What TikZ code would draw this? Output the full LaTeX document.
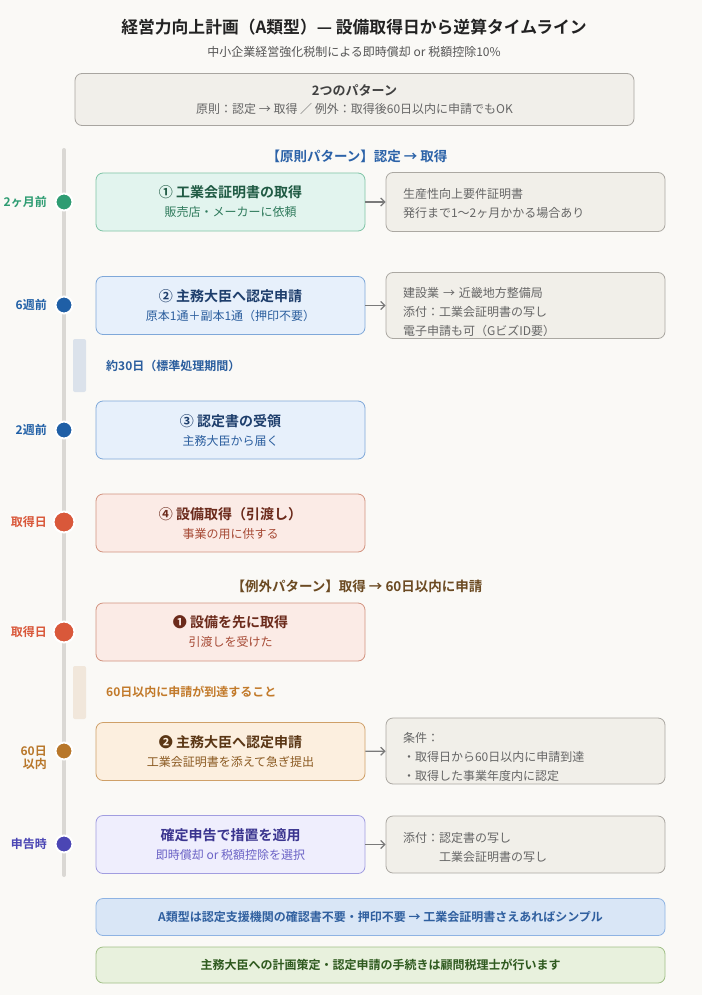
\documentclass[tikz,border=0pt]{standalone}
\usepackage{fontspec}
\setmainfont{Noto Sans CJK JP}[BoldFont={Noto Sans CJK JP Bold}]
\usetikzlibrary{arrows.meta}

\definecolor{bgc}{HTML}{FAF9F6}
\definecolor{ttlc}{HTML}{222222}
\definecolor{subc}{HTML}{555555}
\definecolor{patfill}{HTML}{F1EFEA}
\definecolor{patdraw}{HTML}{A8A5A0}
\definecolor{tline}{HTML}{DAD8D4}
\definecolor{notefill}{HTML}{F1EFE9}
\definecolor{notedraw}{HTML}{ABA8A2}
\definecolor{notetext}{HTML}{666666}
\definecolor{arrc}{HTML}{7A7A7A}
% step colours
\definecolor{grn}{HTML}{2E9C72}
\definecolor{grnfill}{HTML}{E2F4EE}
\definecolor{grndraw}{HTML}{7FC4A6}
\definecolor{grnttl}{HTML}{1F5A43}
\definecolor{grnsub}{HTML}{2F7A5C}
\definecolor{blu}{HTML}{1F5FA6}
\definecolor{blufill}{HTML}{E7F0FB}
\definecolor{bludraw}{HTML}{7FA8D9}
\definecolor{bluttl}{HTML}{1E3E6C}
\definecolor{blusub}{HTML}{2B5E9E}
\definecolor{red}{HTML}{D9583A}
\definecolor{redfill}{HTML}{FBEBE6}
\definecolor{reddraw}{HTML}{D2937F}
\definecolor{redttl}{HTML}{6B2A1B}
\definecolor{redsub}{HTML}{A64A35}
\definecolor{och}{HTML}{B8772A}
\definecolor{ochfill}{HTML}{FCEFDF}
\definecolor{ochdraw}{HTML}{CFA068}
\definecolor{ochttl}{HTML}{5A3615}
\definecolor{ochsub}{HTML}{8B5A22}
\definecolor{pur}{HTML}{4B46B4}
\definecolor{purfill}{HTML}{EFEEFD}
\definecolor{purdraw}{HTML}{A19DE0}
\definecolor{purttl}{HTML}{3A348F}
\definecolor{pursub}{HTML}{6B63C6}
\definecolor{hdrb}{HTML}{2B62A8}
\definecolor{hdro}{HTML}{6B4A22}
\definecolor{gapb}{HTML}{DBE2EB}
\definecolor{gapo}{HTML}{F1E7DB}
\definecolor{gapot}{HTML}{C27A2A}
\definecolor{footbfill}{HTML}{D9E6F6}
\definecolor{footbdraw}{HTML}{8EB3E3}
\definecolor{footbtext}{HTML}{2F5F9F}
\definecolor{footgfill}{HTML}{E8F1DD}
\definecolor{footgdraw}{HTML}{A0BF86}
\definecolor{footgtext}{HTML}{2F5A1F}

\begin{document}
\begin{tikzpicture}[x=1pt,y=-1pt,
  every node/.style={font=\fontsize{12}{19}\selectfont},
  box/.style={rounded corners=7pt,line width=0.8pt,minimum width=269pt,minimum height=58pt,inner sep=0pt,align=center},
  note/.style={draw=notedraw,fill=notefill,text=notetext,rounded corners=7pt,line width=0.8pt,text width=245pt,inner xsep=17pt,inner ysep=0pt,align=left},
  footbox/.style={rounded corners=7pt,line width=0.8pt,minimum width=569pt,minimum height=37pt,font=\bfseries\fontsize{12}{15}\selectfont},
  dot/.style={circle,draw=white,line width=2pt,minimum size=17pt,inner sep=0pt},
  bigdot/.style={dot,minimum size=21pt},
  tlabel/.style={anchor=east,align=right,inner sep=0pt,font=\bfseries\fontsize{12}{13}\selectfont},
  hdr/.style={font=\bfseries\fontsize{13.5}{16}\selectfont},
  gaptext/.style={anchor=west,inner sep=0pt,font=\bfseries\fontsize{12}{15}\selectfont},
  link/.style={draw=arrc,line width=1.3pt,-{Straight Barb[length=4pt,width=8pt]}}
]
\useasboundingbox (0,0) rectangle (702,995);
\fill[bgc] (0,0) rectangle (702,995);

% heading
\node[font=\bfseries\fontsize{16.8}{20}\selectfont,text=ttlc] (title) at (354,27) {経営力向上計画（A類型）— 設備取得日から逆算タイムライン};
\node[font=\fontsize{12}{15}\selectfont,text=subc] (subtitle) at (354,52) {中小企業経営強化税制による即時償却 or 税額控除10\%};
\node[draw=patdraw,fill=patfill,rounded corners=7pt,line width=0.8pt,minimum width=559pt,minimum height=52pt,align=center,font=\fontsize{12}{18}\selectfont] (pat) at (354.5,99.5)
  {{\bfseries\fontsize{13}{18}\selectfont\color{black!75}2つのパターン}\\{\color{notetext}原則：認定 → 取得 ／ 例外：取得後60日以内に申請でもOK}};

% time axis
\coordinate (ttop) at (64,150);
\coordinate (tbot) at (64,875);
\draw[tline,line width=4pt,line cap=round] (ttop) -- (tbot);

% gaps between steps
\fill[gapb,rounded corners=2pt] (73,339) rectangle (86,392);
\node[gaptext,text=blusub] (gap1) at (106,366) {約30日（標準処理期間）};
\fill[gapo,rounded corners=2pt] (73,666) rectangle (86,719);
\node[gaptext,text=gapot] (gap2) at (106,692) {60日以内に申請が到達すること};

% normal pattern
\node[hdr,text=hdrb] (hdr1) at (357,156) {【原則パターン】認定 → 取得};

\node[dot,fill=grn] (d1) at (64,202) {};
\node[tlabel,text=grn] (l1) at (47,202) {2ヶ月前};
\node[box,fill=grnfill,draw=grndraw,text=grnttl] (b1) at (230.5,202)
  {{\bfseries\fontsize{14}{19}\selectfont ① 工業会証明書の取得}\\{\color{grnsub}販売店・メーカーに依頼}};
\node[note,minimum height=59pt] (n1) at (525.5,202) {\rule{0pt}{13pt}生産性向上要件証明書\\発行まで1〜2ヶ月かかる場合あり};
\draw[link] (b1) -- (n1);

\node[dot,fill=blu] (d2) at (64,305) {};
\node[tlabel,text=blu] (l2) at (47,305) {6週前};
\node[box,fill=blufill,draw=bludraw,text=bluttl] (b2) at (230.5,305.5)
  {{\bfseries\fontsize{14}{19}\selectfont ② 主務大臣へ認定申請}\\{\color{blusub}原本1通＋副本1通（押印不要）}};
\node[note,minimum height=66pt] (n2) at (525.5,305.5) {\rule{0pt}{23pt}建設業 → 近畿地方整備局\\添付：工業会証明書の写し\\電子申請も可（GビズID要）};
\draw[link] (b2) -- (n2);

\node[dot,fill=blu] (d3) at (64,430) {};
\node[tlabel,text=blu] (l3) at (47,430) {2週前};
\node[box,fill=blufill,draw=bludraw,text=bluttl] (b3) at (230.5,430)
  {{\bfseries\fontsize{14}{19}\selectfont ③ 認定書の受領}\\{\color{blusub}主務大臣から届く}};

\node[bigdot,fill=red] (d4) at (64,522) {};
\node[tlabel,text=red] (l4) at (47,522) {取得日};
\node[box,fill=redfill,draw=reddraw,text=redttl] (b4) at (230.5,523)
  {{\bfseries\fontsize{14}{19}\selectfont ④ 設備取得（引渡し）}\\{\color{redsub}事業の用に供する}};

% exception pattern
\node[hdr,text=hdro] (hdr2) at (357,586) {【例外パターン】取得 → 60日以内に申請};

\node[bigdot,fill=red] (d5) at (64,632) {};
\node[tlabel,text=red] (l5) at (47,632) {取得日};
\node[box,fill=redfill,draw=reddraw,text=redttl] (b5) at (230.5,632)
  {{\bfseries\fontsize{14}{19}\selectfont ❶ 設備を先に取得}\\{\color{redsub}引渡しを受けた}};

\node[dot,fill=och] (d6) at (64,751) {};
\node[tlabel,text=och] (l6) at (47,758) {60日\\以内};
\node[box,fill=ochfill,draw=ochdraw,text=ochttl] (b6) at (230.5,751.5)
  {{\bfseries\fontsize{14}{19}\selectfont ❷ 主務大臣へ認定申請}\\{\color{ochsub}工業会証明書を添えて急ぎ提出}};
\node[note,minimum height=66pt] (n6) at (525.5,751) {\rule{0pt}{23pt}条件：\\・取得日から60日以内に申請到達\\・取得した事業年度内に認定};
\draw[link] (b6) -- (n6);

\node[dot,fill=pur] (d7) at (64,844) {};
\node[tlabel,text=pur] (l7) at (47,844) {申告時};
\node[box,fill=purfill,draw=purdraw,text=purttl] (b7) at (230.5,844.5)
  {{\bfseries\fontsize{14}{19}\selectfont 確定申告で措置を適用}\\{\color{pursub}即時償却 or 税額控除を選択}};
\node[note,minimum height=57pt] (n7) at (525.5,844.5) {\rule{0pt}{17pt}添付：認定書の写し\\\phantom{添付：}工業会証明書の写し};
\draw[link] (b7) -- (n7);

% footer notes
\node[footbox,fill=footbfill,draw=footbdraw,text=footbtext] (f1) at (380.5,917) {A類型は認定支援機関の確認書不要・押印不要 → 工業会証明書さえあればシンプル};
\node[footbox,fill=footgfill,draw=footgdraw,text=footgtext,minimum height=36pt] (f2) at (380.5,965) {主務大臣への計画策定・認定申請の手続きは顧問税理士が行います};
\end{tikzpicture}
\end{document}
